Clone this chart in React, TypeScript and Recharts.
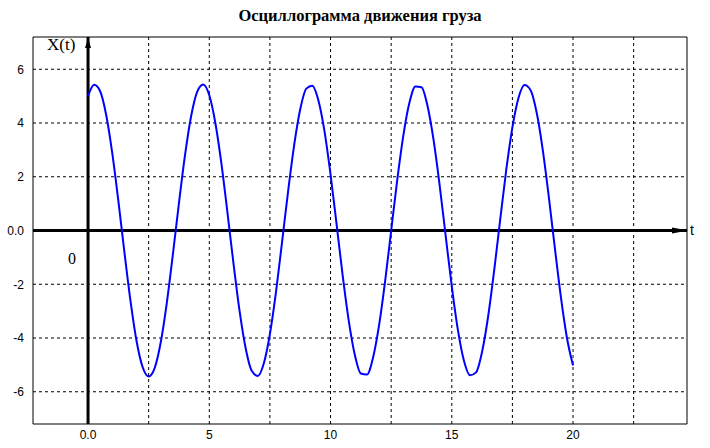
import { LineChart, Line, XAxis, YAxis, ReferenceLine, ReferenceArea } from "recharts";

// time step 0.25 from 0 to 20
const tValues = [
  0, 0.25, 0.5, 0.75, 1, 1.25, 1.5, 1.75, 2, 2.25, 2.5, 2.75, 3, 3.25, 3.5, 3.75, 4, 4.25, 4.5, 4.75,
  5, 5.25, 5.5, 5.75, 6, 6.25, 6.5, 6.75, 7, 7.25, 7.5, 7.75, 8, 8.25, 8.5, 8.75, 9, 9.25, 9.5, 9.75,
  10, 10.25, 10.5, 10.75, 11, 11.25, 11.5, 11.75, 12, 12.25, 12.5, 12.75, 13, 13.25, 13.5, 13.75, 14, 14.25, 14.5, 14.75,
  15, 15.25, 15.5, 15.75, 16, 16.25, 16.5, 16.75, 17, 17.25, 17.5, 17.75, 18, 18.25, 18.5, 18.75, 19, 19.25, 19.5, 19.75,
  20,
];
const xValues = [
  5.0, 5.42, 5.18, 4.29, 2.87, 1.1, -0.81, -2.62, -4.11, -5.08, -5.43, -5.11, -4.15, -2.68, -0.88, 1.03, 2.81, 4.25, 5.16, 5.43,
  5.03, 4.0, 2.49, 0.66, -1.24, -3.0, -4.38, -5.22, -5.41, -4.94, -3.85, -2.29, -0.44, 1.46, 3.18, 4.51, 5.28, 5.39, 4.84, 3.7,
  2.09, 0.23, -1.67, -3.35, -4.62, -5.32, -5.36, -4.74, -3.53, -1.89, -0.01, 1.87, 3.52, 4.74, 5.36, 5.33, 4.63, 3.36, 1.68, -0.21,
  -2.08, -3.69, -4.84, -5.39, -5.28, -4.51, -3.19, -1.47, 0.43, 2.28, 3.84, 4.93, 5.41, 5.22, 4.39, 3.01, 1.26, -0.65, -2.48, -4.0,
  -5.02,
];

const xTicks = [0, 5, 10, 15, 20];
const yTicks = [-6, -4, -2, 0, 2, 4, 6];
const xGrid = [2.5, 5, 7.5, 10, 12.5, 15, 17.5, 20, 22.5];
const yGrid = [-6, -4, -2, 2, 4, 6];
const xDomain: [number, number] = [-2.27, 24.7];
const yDomain: [number, number] = [-7.2, 7.2];

const data = tValues.map((t, i) => ({ t, x: xValues[i] }));

const SERIF = '"Liberation Serif", "Times New Roman", "DejaVu Serif", serif';
const SANS = '"Liberation Sans", Arial, sans-serif';

const fmt = (v: number) => (v === 0 ? "0.0" : String(v));
const tickStyle = { fontSize: 12, fontFamily: SANS, fill: "#000" };

function YArrow({ viewBox }: any) {
  const { x, y } = viewBox;
  return (
    <g>
      <polygon points={`${x - 3},${y + 11} ${x},${y + 1} ${x + 3},${y + 11}`} fill="#000" />
      <text x={x - 41} y={y + 13} fontSize={17} style={{ fontFamily: SERIF }} fill="#000">
        X(t)
      </text>
    </g>
  );
}

function TArrow({ viewBox }: any) {
  const { x, y, width } = viewBox;
  const end = x + width + 1;
  return (
    <g>
      <polygon points={`${end - 16},${y - 3} ${end},${y} ${end - 16},${y + 3}`} fill="#000" />
      <text x={end + 2} y={y + 4} fontSize={14} style={{ fontFamily: SANS }} fill="#000">
        t
      </text>
      <text x={x + 35} y={y + 33} fontSize={16} style={{ fontFamily: SERIF }} fill="#000">
        0
      </text>
    </g>
  );
}

export default function App() {
  return (
    <div style={{ position: "absolute", left: 0, top: 0, width: 710, height: 448, background: "#fff" }}>
      <div
        style={{
          position: "absolute",
          left: 0,
          width: 720,
          top: 8,
          textAlign: "center",
          fontFamily: SERIF,
          fontSize: 16.5,
          fontWeight: 600,
          lineHeight: "16px",
          color: "#000",
        }}
      >
        Осциллограмма движения груза
      </div>
      <LineChart width={710} height={448} data={data} margin={{ top: 37, right: 23, left: 0, bottom: 0 }}>
        <XAxis
          dataKey="t"
          type="number"
          domain={xDomain}
          ticks={xTicks}
          allowDataOverflow
          tickFormatter={fmt}
          tick={tickStyle}
          axisLine={false}
          tickLine={false}
          tickSize={0}
          tickMargin={6}
          height={24}
        />
        <YAxis
          type="number"
          domain={yDomain}
          ticks={yTicks}
          allowDataOverflow
          tickFormatter={fmt}
          tick={tickStyle}
          axisLine={false}
          tickLine={false}
          tickSize={0}
          tickMargin={9}
          width={33}
        />
        {xGrid.map((v) => (
          <ReferenceLine key={"gx" + v} x={v} stroke="#000" strokeWidth={1} strokeDasharray="3 3" />
        ))}
        {yGrid.map((v) => (
          <ReferenceLine key={"gy" + v} y={v} stroke="#000" strokeWidth={1} strokeDasharray="3 3" />
        ))}
        <ReferenceArea
          x1={xDomain[0]}
          x2={xDomain[1]}
          y1={yDomain[0]}
          y2={yDomain[1]}
          fill="none"
          fillOpacity={0}
          stroke="#000"
          strokeWidth={1}
        />
        <ReferenceLine x={0} stroke="#000" strokeWidth={3} label={<YArrow />} />
        <ReferenceLine y={0} stroke="#000" strokeWidth={3} label={<TArrow />} />
        <Line
          dataKey="x"
          type="monotone"
          stroke="#0000ff"
          strokeWidth={2}
          dot={false}
          isAnimationActive={false}
        />
      </LineChart>
    </div>
  );
}
